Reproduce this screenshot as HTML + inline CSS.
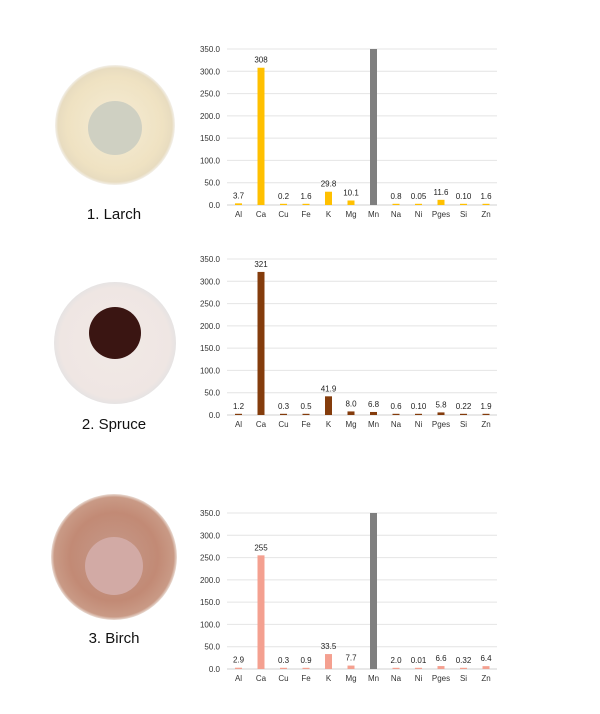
<!DOCTYPE html>
<html><head><meta charset="utf-8"><style>
html,body{margin:0;padding:0;background:#fff;}
svg{display:block;font-family:"Liberation Sans",sans-serif;}
</style></head><body>
<svg id="s" width="600" height="714" xmlns="http://www.w3.org/2000/svg">
<defs>
<radialGradient id="g1" cx="50%" cy="50%" r="50%"><stop offset="0" stop-color="#f5ecd6"/><stop offset="0.8" stop-color="#efe2c2"/><stop offset="0.95" stop-color="#e8dcc0"/><stop offset="1" stop-color="#f3f0ea"/></radialGradient>
<radialGradient id="g2" cx="50%" cy="50%" r="50%"><stop offset="0" stop-color="#f1e9e6"/><stop offset="0.9" stop-color="#efe6e3"/><stop offset="1" stop-color="#e6e3e3"/></radialGradient>
<radialGradient id="g3" cx="50%" cy="50%" r="50%"><stop offset="0" stop-color="#c59a8b"/><stop offset="0.7" stop-color="#c28a75"/><stop offset="0.95" stop-color="#c99a86"/><stop offset="1" stop-color="#eadcd4"/></radialGradient>
</defs>
<circle cx="115" cy="125" r="60" fill="url(#g1)"/>
<circle cx="115" cy="128" r="27" fill="#cfd0c2"/>
<circle cx="115" cy="343" r="61" fill="url(#g2)"/>
<circle cx="115" cy="333" r="26" fill="#3a1512"/>
<circle cx="114" cy="557" r="63" fill="url(#g3)"/>
<circle cx="114" cy="566" r="29" fill="#d2aaa5"/>
<text x="114" y="219" font-size="15" text-anchor="middle" fill="#111">1. Larch</text>
<text x="114" y="429" font-size="15" text-anchor="middle" fill="#111">2. Spruce</text>
<text x="114" y="643" font-size="15" text-anchor="middle" fill="#111">3. Birch</text>
</svg>
<script>
var s=document.getElementById('s'),ns='http://www.w3.org/2000/svg';
function el(t,a,txt){var e=document.createElementNS(ns,t);for(var k in a)e.setAttribute(k,a[k]);if(txt!=null)e.textContent=txt;s.appendChild(e);return e;}
var cats=['Al','Ca','Cu','Fe','K','Mg','Mn','Na','Ni','Pges','Si','Zn'];
var charts=[
 {y0:205,col:'#FFC000',v:[3.7,308,0.2,1.6,29.8,10.1,350,0.8,0.05,11.6,0.10,1.6],l:['3.7','308','0.2','1.6','29.8','10.1','','0.8','0.05','11.6','0.10','1.6'],mn:true},
 {y0:415,col:'#843C0C',v:[1.2,321,0.3,0.5,41.9,8.0,6.8,0.6,0.10,5.8,0.22,1.9],l:['1.2','321','0.3','0.5','41.9','8.0','6.8','0.6','0.10','5.8','0.22','1.9'],mn:false},
 {y0:669,col:'#F4A090',v:[2.9,255,0.3,0.9,33.5,7.7,350,2.0,0.01,6.6,0.32,6.4],l:['2.9','255','0.3','0.9','33.5','7.7','','2.0','0.01','6.6','0.32','6.4'],mn:true}];
var sc=156/350;
charts.forEach(function(c){
 for(var i=0;i<=7;i++){var y=c.y0-i*50*sc;
  el('line',{x1:227,x2:497,y1:y,y2:y,stroke:i?'#e4e4e4':'#d0d0d0','stroke-width':1});
  el('text',{x:220,y:y+3,'font-size':8,'text-anchor':'end',fill:'#333'},(i*50).toFixed(1));}
 cats.forEach(function(n,i){var cx=238.5+i*22.5,h=Math.max(c.v[i]*sc,1.2);
  var col=(i==6&&c.mn)?'#7F7F7F':c.col;
  el('rect',{x:cx-3.5,y:c.y0-h,width:7,height:h,fill:col});
  if(c.l[i])el('text',{x:cx,y:c.y0-h-5,'font-size':8,'text-anchor':'middle',fill:'#222'},c.l[i]);
  el('text',{x:cx,y:c.y0+12,'font-size':8,'text-anchor':'middle',fill:'#333'},n);});
});
</script>
</body></html>
